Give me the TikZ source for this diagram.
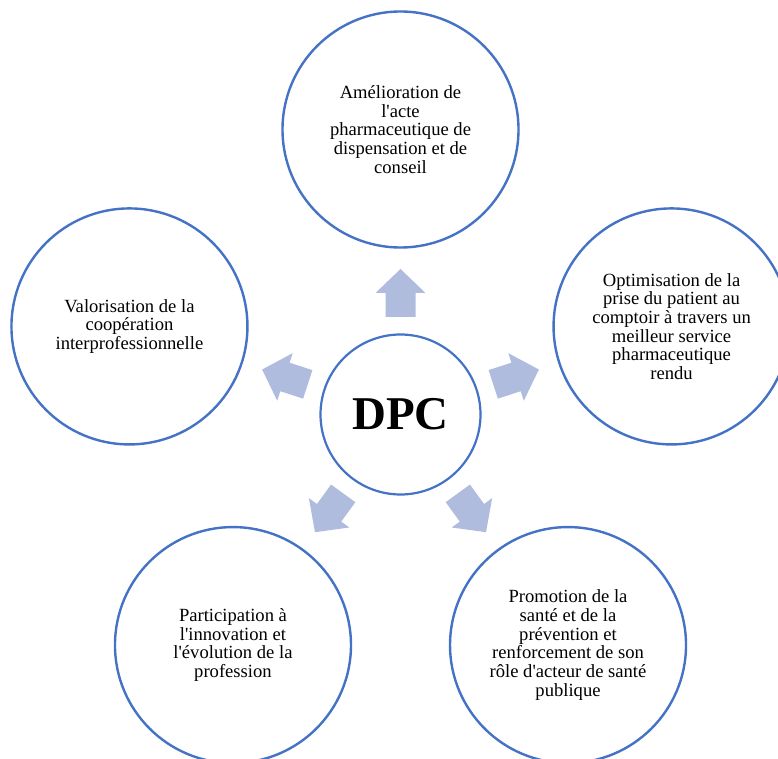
\documentclass[tikz,border=0pt]{standalone}
\usepackage{fontspec}
\setmainfont{Liberation Serif}
\definecolor{ring}{HTML}{4472C4}
\definecolor{arrowfill}{HTML}{B0BCDE}
\newcommand{\apo}{\textquotesingle}
\begin{document}
\begin{tikzpicture}[x=1pt,y=1pt]
\useasboundingbox (0,0) rectangle (778,758);
\clip (0,0) rectangle (778,758);
\tikzset{
  outer/.style={circle, draw=ring, line width=2.4pt, fill=white, minimum size=236pt, inner sep=0pt, align=center, font=\fontsize{18.6}{18.7}\selectfont},
  blockarrow/.style={fill=arrowfill, draw=none}
}
\coordinate (c) at (400.5,343.5);
\node[circle, draw=ring, line width=2.2pt, fill=white, minimum size=160pt, inner sep=0pt, font=\fontsize{47}{50}\selectfont\bfseries] (dpc) at (c) {DPC};
\node[outer] (top) at ([shift={(90:285)}]c) {Amélioration de\\l\apo acte\\pharmaceutique de\\dispensation et de\\conseil};
\node[outer] (right) at ([shift={(18:285)}]c) {Optimisation de la\\prise du patient au\\comptoir à travers un\\meilleur service\\pharmaceutique\\rendu};
\node[outer] (left) at ([shift={(162:285)}]c) {Valorisation de la\\coopération\\interprofessionnelle};
\node[outer] (botleft) at ([shift={(-126:285)}]c) {Participation à\\l\apo innovation et\\l\apo évolution de la\\profession};
\node[outer] (botright) at ([shift={(-54:285)}]c) {Promotion de la\\santé et de la\\prévention et\\renforcement de son\\rôle d\apo acteur de santé\\publique};
\foreach \a in {90,18,162,-54,-126}{
  \fill[blockarrow, shift={(c)}, rotate=\a] (97.5,-15) -- (121.5,-15) -- (121.5,-25) -- (145.5,0) -- (121.5,25) -- (121.5,15) -- (97.5,15) -- cycle;
}
\end{tikzpicture}
\end{document}
